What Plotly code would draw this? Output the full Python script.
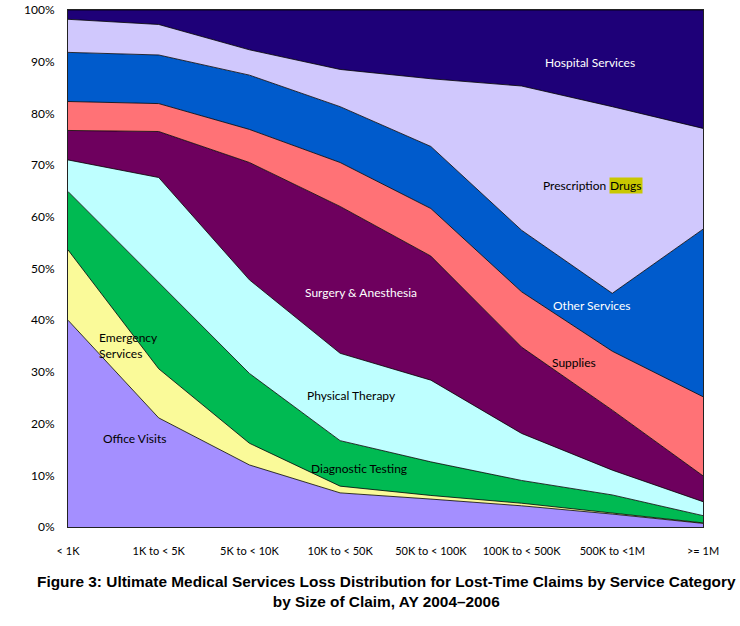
import plotly.graph_objects as go

categories = ["< 1K", "1K to < 5K", "5K to < 10K", "10K to < 50K",
              "50K to < 100K", "100K to < 500K", "500K to <1M", ">= 1M"]

office_visits = [40.0, 21.1, 12.0, 6.6, 5.4, 4.1, 2.5, 0.7]
emergency_services = [13.6, 9.5, 4.2, 1.3, 0.7, 0.5, 0.2, 0.1]
diagnostic_testing = [11.3, 16.7, 13.5, 8.8, 6.5, 4.4, 3.5, 1.4]
physical_therapy = [6.1, 20.3, 18.1, 16.9, 15.8, 9.1, 4.8, 2.7]
surgery_anesthesia = [5.7, 8.9, 22.7, 28.4, 24.0, 16.7, 11.6, 5.0]
supplies = [5.6, 5.4, 6.4, 8.5, 9.2, 10.7, 11.4, 15.3]
other_services = [9.5, 9.4, 10.5, 10.8, 12.0, 11.9, 11.2, 32.4]
prescription_drugs = [6.4, 5.9, 4.9, 7.2, 13.1, 27.9, 36.1, 19.5]
hospital_services = [1.8, 2.8, 7.7, 11.5, 13.3, 14.7, 18.7, 22.9]

y_tick_values = [0, 10, 20, 30, 40, 50, 60, 70, 80, 90, 100]
y_tick_labels = ["0%", "10%", "20%", "30%", "40%", "50%", "60%", "70%",
                 "80%", "90%", "100%"]

series = [
    ("Office Visits", office_visits, "#A48FFF"),
    ("Emergency Services", emergency_services, "#FAFA99"),
    ("Diagnostic Testing", diagnostic_testing, "#00BA52"),
    ("Physical Therapy", physical_therapy, "#BEFFFF"),
    ("Surgery & Anesthesia", surgery_anesthesia, "#6E005E"),
    ("Supplies", supplies, "#FF7276"),
    ("Other Services", other_services, "#005BCC"),
    ("Prescription Drugs", prescription_drugs, "#D0C8FD"),
    ("Hospital Services", hospital_services, "#1E0078"),
]

fig = go.Figure()
for name, vals, color in series:
    fig.add_trace(go.Scatter(
        x=categories, y=vals, name=name, mode="lines",
        stackgroup="one", fillcolor=color,
        line=dict(color="black", width=0.8), showlegend=False,
    ))

W, H = 740, 626
SL, SR, ST, SB = 68, 703, 10, 527


def px(x):
    return (x - SL) / (SR - SL)


def py(y):
    return (SB - y) / (SB - ST)


lab_font = "Lato, Open Sans, sans-serif"
labels = [
    ("Hospital Services", 590, 62, "white", "center"),
    ("Other Services", 592, 305, "white", "center"),
    ("Supplies", 574, 362, "black", "center"),
    ("Surgery & Anesthesia", 361, 292, "white", "center"),
    ("Physical Therapy", 351, 395, "black", "center"),
    ("Diagnostic Testing", 359, 468, "black", "center"),
    ("Office Visits", 134, 438, "black", "center"),
]
for text, x, y, col, anchor in labels:
    fig.add_annotation(text=text, x=px(x), y=py(y), xref="paper", yref="paper",
                       showarrow=False, xanchor=anchor, yanchor="middle",
                       font=dict(family=lab_font, size=12, color=col))

fig.add_annotation(text="Emergency<br>Services", x=px(97), y=py(345),
                   xref="paper", yref="paper", showarrow=False,
                   xanchor="left", yanchor="middle", align="left",
                   font=dict(family=lab_font, size=12, color="black"))
fig.add_annotation(text="Prescription", x=px(608), y=py(185),
                   xref="paper", yref="paper", showarrow=False,
                   xanchor="right", yanchor="middle",
                   font=dict(family=lab_font, size=12, color="black"))
fig.add_annotation(text="Drugs", x=px(609), y=py(185),
                   xref="paper", yref="paper", showarrow=False,
                   xanchor="left", yanchor="middle", bgcolor="#C9C800",
                   borderpad=0,
                   font=dict(family=lab_font, size=12, color="black"))

fig.add_annotation(
    text="<b>Figure 3: Ultimate Medical Services Loss Distribution for Lost-Time Claims by Service Category</b>"
         "<br><b>by Size of Claim, AY 2004\u20132006</b>",
    x=px(386), y=py(591), xref="paper", yref="paper", showarrow=False,
    xanchor="center", yanchor="middle", align="center",
    font=dict(family="Liberation Sans, Arial, sans-serif", size=15.4, color="black"))

fig.update_layout(
    width=W, height=H,
    margin=dict(l=SL, r=W - SR, t=ST, b=H - SB, autoexpand=False),
    paper_bgcolor="white", plot_bgcolor="white",
    xaxis=dict(type="category", range=[0, 7], showgrid=False, zeroline=False,
               showline=True, linecolor="#222", linewidth=1, mirror=True,
               ticks="outside", ticklen=14, tickcolor="rgba(0,0,0,0)",
               tickfont=dict(family=lab_font, size=11, color="black")),
    yaxis=dict(range=[0, 100], tickmode="array", tickvals=y_tick_values,
               ticktext=y_tick_labels,
               showgrid=False, zeroline=False,
               showline=True, linecolor="#222", linewidth=1, mirror=True,
               ticks="outside", ticklen=10, tickcolor="rgba(0,0,0,0)",
               tickfont=dict(family=lab_font, size=12, color="black")),
)

fig.write_html("out.html",
               config={"displayModeBar": False},
               post_script="document.body.style.margin='0';"
                           "document.body.style.overflow='hidden';")
